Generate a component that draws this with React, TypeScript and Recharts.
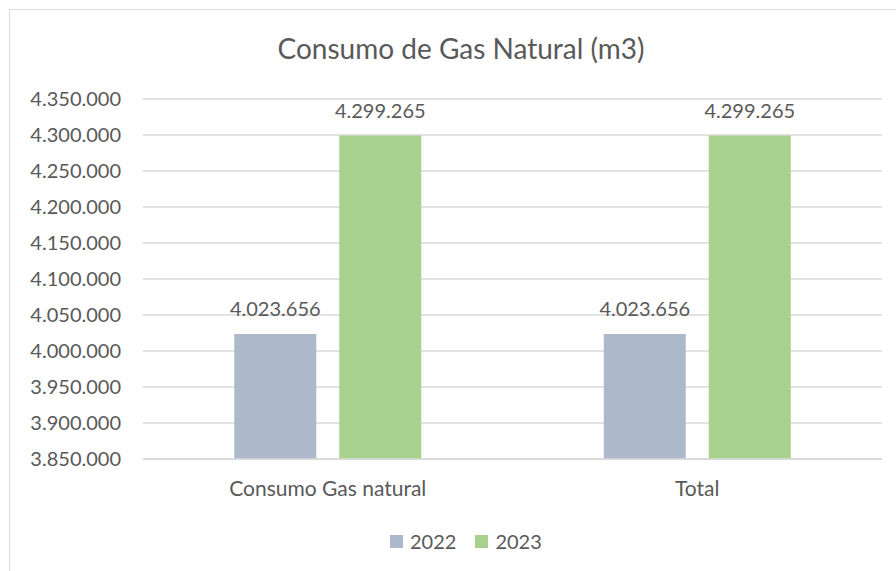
import { BarChart, Bar, XAxis, YAxis, CartesianGrid, Legend, LabelList } from 'recharts';

const categories = ['Consumo Gas natural', 'Total'];
const values2022 = [4023656, 4023656];
const values2023 = [4299265, 4299265];
const yTicks = [3850000, 3900000, 3950000, 4000000, 4050000, 4100000, 4150000, 4200000, 4250000, 4300000, 4350000];

const TEXT = '#595959';
const FONT = 'Lato, "Open Sans", sans-serif';
const COLORS = ['#adb9ca', '#a9d18e'];
const SERIES = ['2022', '2023'];

const fmt = (v: number) => String(Math.round(v)).replace(/\B(?=(\d{3})+(?!\d))/g, '.');

const data = categories.map((name, i) => ({
  name,
  y2022: values2022[i],
  y2023: values2023[i],
}));

const renderLegend = () => (
  <div style={{ display: 'flex', fontSize: 20, fontFamily: FONT, color: TEXT, lineHeight: '24px' }}>
    {SERIES.map((s, i) => (
      <div key={s} style={{ display: 'flex', alignItems: 'center', marginRight: 19 }}>
        <span style={{ width: 13, height: 13, background: COLORS[i], marginRight: 7, display: 'inline-block' }} />
        <span>{s}</span>
      </div>
    ))}
  </div>
);

export default function App() {
  return (
    <div style={{ position: 'absolute', left: 0, top: 0, width: 896, height: 571, overflow: 'hidden', background: '#fff', fontFamily: FONT }}>
      <div style={{ position: 'absolute', left: 9, top: 9, width: 920, height: 600, border: '1px solid #d9d9d9' }} />
      <div style={{ position: 'absolute', left: 0, width: 922, top: 31, textAlign: 'center', fontSize: 28, color: TEXT }}>
        Consumo de Gas Natural (m3)
      </div>
      <BarChart
        width={896}
        height={571}
        data={data}
        margin={{ top: 99, right: 14, bottom: 48, left: 0 }}
        barCategoryGap="24.7%"
        barGap={23}
        style={{ position: 'absolute', left: 0, top: 0 }}
      >
        <CartesianGrid vertical={false} stroke="#d9d9d9" strokeWidth={1.5} />
        <XAxis
          dataKey="name"
          height={40}
          axisLine={{ stroke: '#d9d9d9', strokeWidth: 1.5 }}
          tickLine={false}
          tickMargin={16}
          tick={{ fill: TEXT, fontSize: 21, fontFamily: FONT }}
        />
        <YAxis
          width={143}
          domain={[3850000, 4350000]}
          ticks={yTicks}
          allowDataOverflow
          axisLine={false}
          tickLine={false}
          tickMargin={16}
          tickFormatter={fmt}
          tick={{ fill: TEXT, fontSize: 20, fontFamily: FONT }}
        />
        <Legend
          content={renderLegend}
          wrapperStyle={{ position: 'absolute', left: 390, top: 529, width: 180, height: 24 }}
        />
        <Bar dataKey="y2022" name="2022" fill={COLORS[0]} isAnimationActive={false}>
          <LabelList dataKey="y2022" position="top" offset={18} formatter={(v: any) => fmt(Number(v))} style={{ fill: TEXT, fontSize: 20, fontFamily: FONT }} />
        </Bar>
        <Bar dataKey="y2023" name="2023" fill={COLORS[1]} isAnimationActive={false}>
          <LabelList dataKey="y2023" position="top" offset={18} formatter={(v: any) => fmt(Number(v))} style={{ fill: TEXT, fontSize: 20, fontFamily: FONT }} />
        </Bar>
      </BarChart>
    </div>
  );
}
